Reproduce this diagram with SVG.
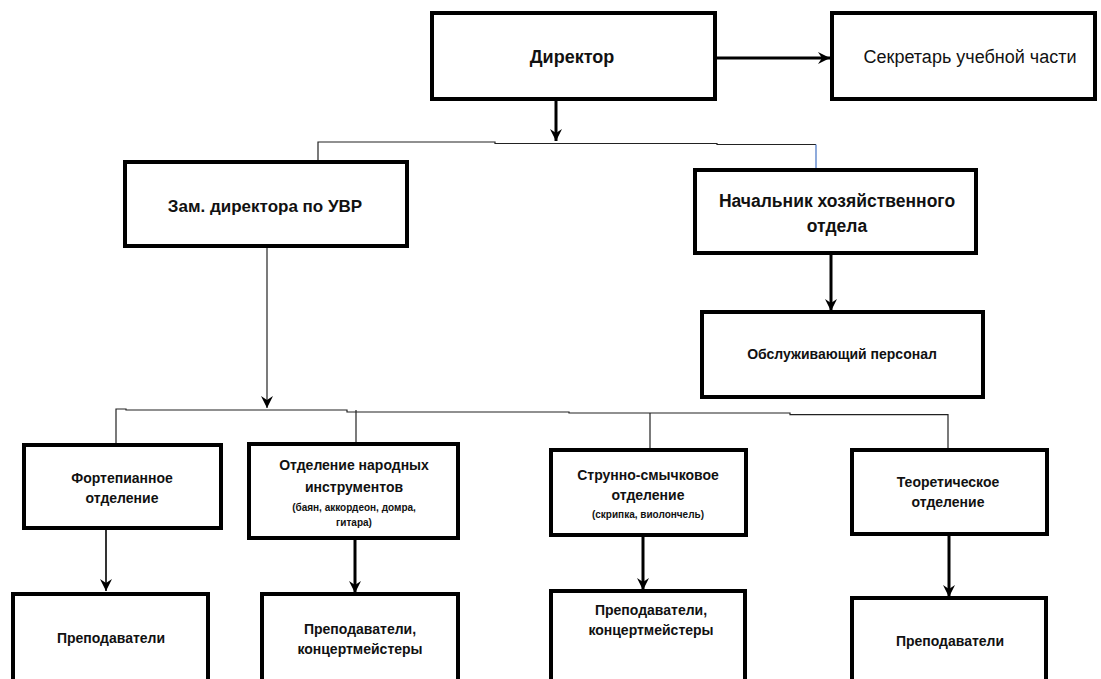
<svg xmlns="http://www.w3.org/2000/svg" width="1101" height="679" viewBox="0 0 1101 679">
<defs>
<style>
.box{fill:#fff;stroke:#000;stroke-width:4}
.t{font-family:"Liberation Sans",Arial,sans-serif;font-weight:bold;fill:#111;text-anchor:middle}
.r{font-weight:normal}
.thin{fill:none;stroke:#222;stroke-width:1.2}
.thick{fill:none;stroke:#000;stroke-width:3}
.mid{fill:none;stroke:#000;stroke-width:1.6}
</style>
<marker id="ah" viewBox="0 0 12 12" markerWidth="12" markerHeight="12" refX="12" refY="6" orient="auto" markerUnits="userSpaceOnUse">
<path d="M0,0 L12,6 L0,12 L4,6 z" fill="#000"/>
</marker>
</defs>
<rect width="1101" height="679" fill="#fff"/>
<g id="connectors">
<line class="thick" x1="717" y1="58" x2="830" y2="58" marker-end="url(#ah)"/>
<line class="thick" x1="556" y1="101" x2="556" y2="141" marker-end="url(#ah)"/>
<path class="thin" d="M318,161 V142 H495 V143.5 H717 V144.5 H816"/>
<path d="M816,144.5 V168" fill="none" stroke="#4472c4" stroke-width="1.2"/>
<line class="thin" x1="267" y1="248" x2="267" y2="408" marker-end="url(#ah)"/>
<line class="thick" x1="831" y1="255" x2="831" y2="311" marker-end="url(#ah)"/>
<path class="thin" d="M116,443 V409 H126 V410 H347 V412 H569 V413 H790 V414.7 H948 V449"/>
<line class="thin" x1="356" y1="410" x2="356" y2="443"/>
<line class="thin" x1="650" y1="413" x2="650" y2="449"/>
<line class="mid" x1="106" y1="530" x2="106" y2="591" marker-end="url(#ah)"/>
<line class="thick" x1="355" y1="540" x2="355" y2="593" marker-end="url(#ah)"/>
<line class="thick" x1="643" y1="537" x2="643" y2="590" marker-end="url(#ah)"/>
<line class="thick" x1="949" y1="536" x2="949" y2="597" marker-end="url(#ah)"/>
</g>
<g id="director">
<rect class="box" x="432" y="13" width="283" height="86"/>
<text class="t" x="572" y="63" font-size="18">Директор</text>
</g>
<g id="secretary">
<rect class="box" x="832" y="13" width="263" height="86"/>
<text class="t r" x="970" y="63" font-size="18">Секретарь учебной части</text>
</g>
<g id="deputy">
<rect class="box" x="125" y="162" width="282" height="84"/>
<text class="t" x="265" y="212" font-size="17">Зам. директора по УВР</text>
</g>
<g id="household">
<rect class="box" x="695" y="170" width="281" height="83"/>
<text class="t" x="837" y="207" font-size="17.5">Начальник хозяйственного</text>
<text class="t" x="837" y="232" font-size="17.5">отдела</text>
</g>
<g id="staff">
<rect class="box" x="702" y="312" width="281" height="85"/>
<text class="t" x="842" y="359" font-size="14">Обслуживающий персонал</text>
</g>
<g id="piano">
<rect class="box" x="24" y="445" width="197" height="83"/>
<text class="t" x="122" y="483" font-size="14">Фортепианное</text>
<text class="t" x="122" y="503" font-size="14">отделение</text>
</g>
<g id="folk">
<rect class="box" x="249" y="444" width="209" height="94" stroke-width="5"/>
<text class="t" x="354" y="470" font-size="14">Отделение народных</text>
<text class="t" x="354" y="492" font-size="14">инструментов</text>
<text class="t" x="354" y="511" font-size="10">(баян, аккордеон, домра,</text>
<text class="t" x="354" y="526" font-size="10">гитара)</text>
</g>
<g id="strings">
<rect class="box" x="551" y="450" width="195" height="85"/>
<text class="t" x="648" y="480" font-size="14">Струнно-смычковое</text>
<text class="t" x="648" y="500" font-size="14">отделение</text>
<text class="t" x="648" y="518" font-size="10">(скрипка, виолончель)</text>
</g>
<g id="theory">
<rect class="box" x="852" y="450" width="195" height="84"/>
<text class="t" x="948" y="487" font-size="14">Теоретическое</text>
<text class="t" x="948" y="507" font-size="14">отделение</text>
</g>
<g id="teachers1">
<rect class="box" x="13" y="594" width="195" height="95"/>
<text class="t" x="111" y="643" font-size="14">Преподаватели</text>
</g>
<g id="teachers2">
<rect class="box" x="262" y="594" width="196" height="95"/>
<text class="t" x="360" y="634" font-size="14">Преподаватели,</text>
<text class="t" x="360" y="654" font-size="14">концертмейстеры</text>
</g>
<g id="teachers3">
<rect class="box" x="551" y="591" width="194" height="98"/>
<text class="t" x="651" y="615" font-size="14">Преподаватели,</text>
<text class="t" x="651" y="635" font-size="14">концертмейстеры</text>
</g>
<g id="teachers4">
<rect class="box" x="852" y="598" width="194" height="91"/>
<text class="t" x="950" y="646" font-size="14">Преподаватели</text>
</g>
</svg>
